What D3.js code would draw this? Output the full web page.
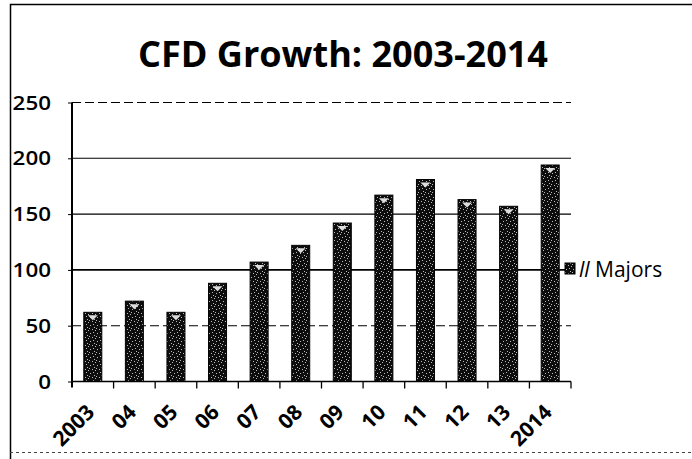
<!DOCTYPE html>
<html><head><meta charset="utf-8">
<script src="https://cdn.jsdelivr.net/npm/d3@7"></script>
<style>body{margin:0;background:#fff}svg{display:block}</style>
</head><body>
<svg id="c" width="692" height="459"></svg>
<script>
const categories = ["2003","04","05","06","07","08","09","10","11","12","13","2014"];
const majors = [62,72,62,88,107,122,142,167,181,163,157,194];
const yTicks = [0,50,100,150,200,250];
const title = "CFD Growth: 2003-2014";
const legendPrefix = "ll";
const legendLabel = " Majors";

const FONT = "Open Sans, Liberation Sans, sans-serif";
const svg = d3.select("#c");
const m = {left:72, right:571, top:102.5, bottom:381.5};
const x = d3.scaleBand().domain(categories).range([m.left,m.right]).paddingInner(0.567).paddingOuter(0.2835);
const y = d3.scaleLinear().domain([0,250]).range([m.bottom,m.top]);

// speckled bar pattern
const defs = svg.append("defs");
const pat = defs.append("pattern").attr("id","spk").attr("width",7).attr("height",8).attr("patternUnits","userSpaceOnUse");
pat.append("rect").attr("width",7).attr("height",8).attr("fill","#0d0d0d");
[[1,1],[4,2],[2,4],[6,5],[3,7],[5,0]].forEach(([a,b])=>pat.append("rect").attr("x",a).attr("y",b).attr("width",1).attr("height",1).attr("fill","#bbb"));

// frame
svg.append("path").attr("d","M10.5,459 V4.5 H692").attr("fill","none").attr("stroke","#000").attr("stroke-width",1.5);
svg.append("line").attr("x1",10).attr("x2",692).attr("y1",452.5).attr("y2",452.5).attr("stroke","#444").attr("stroke-dasharray","3,3");

// title
svg.append("text").attr("x",138).attr("y",67).attr("text-anchor","start")
  .attr("font-family",FONT).attr("font-weight","bold").attr("font-size",36)
  .attr("textLength",410).attr("lengthAdjust","spacingAndGlyphs").text(title);

// gridlines
svg.append("g").selectAll("line").data(yTicks.filter(d=>d>0)).join("line")
  .attr("x1",m.left).attr("x2",m.right).attr("y1",d=>y(d)).attr("y2",d=>y(d))
  .attr("stroke","#000").attr("stroke-width",d=>d===100?1.6:1.1)
  .attr("stroke-dasharray",d=>(d===50||d===250)?"9,4":null);
// gridline of 100 continues dotted to legend
svg.append("line").attr("x1",m.right).attr("x2",563).attr("y1",y(100)).attr("y2",y(100))
  .attr("stroke","#000").attr("stroke-dasharray","2,2");

// y axis
const ya = svg.append("g").attr("transform",`translate(${m.left},0)`)
  .call(d3.axisLeft(y).tickValues(yTicks).tickSize(4).tickFormat(""));
ya.select(".domain").attr("stroke-width",2).attr("d",`M0,${m.top}V${m.bottom+6}`);
svg.append("g").selectAll("text").data(yTicks).join("text")
  .attr("x",51).attr("y",d=>y(d)+7).attr("text-anchor","end").attr("font-family",FONT)
  .attr("font-size",20).attr("font-weight","600")
  .attr("textLength",d=>String(d).length*12.8).attr("lengthAdjust","spacingAndGlyphs").text(d=>d);

// bars
svg.append("g").selectAll("rect").data(majors).join("rect")
  .attr("x",(d,i)=>x(categories[i])).attr("width",x.bandwidth())
  .attr("y",d=>y(d)).attr("height",d=>y(0)-y(d)).attr("fill","url(#spk)").attr("stroke","#000");
// light cap highlight on bars
svg.append("g").selectAll("path").data(majors).join("path")
  .attr("d",(d,i)=>{const cx=x(categories[i])+x.bandwidth()/2, ty=y(d)+3; return `M${cx-5},${ty}L${cx+5},${ty}L${cx},${ty+5}Z`;})
  .attr("fill","#ddd");

// x axis
const step = x.step();
svg.append("line").attr("x1",m.left).attr("x2",m.right).attr("y1",y(0)).attr("y2",y(0)).attr("stroke","#000").attr("stroke-width",1.5);
svg.append("g").selectAll("line").data(d3.range(1,categories.length+1)).join("line")
  .attr("x1",i=>m.left+i*step).attr("x2",i=>m.left+i*step).attr("y1",y(0)).attr("y2",y(0)+7).attr("stroke","#000").attr("stroke-width",1.3);
svg.append("g").selectAll("text").data(categories).join("text")
  .attr("transform",d=>`translate(${x(d)+x.bandwidth()/2+3},${y(0)+32}) rotate(-45)`)
  .attr("text-anchor","end").attr("font-family",FONT)
  .attr("font-size",21).attr("font-weight","bold").text(d=>d);

// legend
svg.append("rect").attr("x",565).attr("y",263).attr("width",10).attr("height",11).attr("fill","url(#spk)").attr("stroke","#000");
const lt = svg.append("text").attr("x",579).attr("y",277).attr("font-family",FONT).attr("font-size",21);
lt.append("tspan").attr("font-style","italic").text(legendPrefix);
lt.append("tspan").text(legendLabel);
</script>
</body></html>
